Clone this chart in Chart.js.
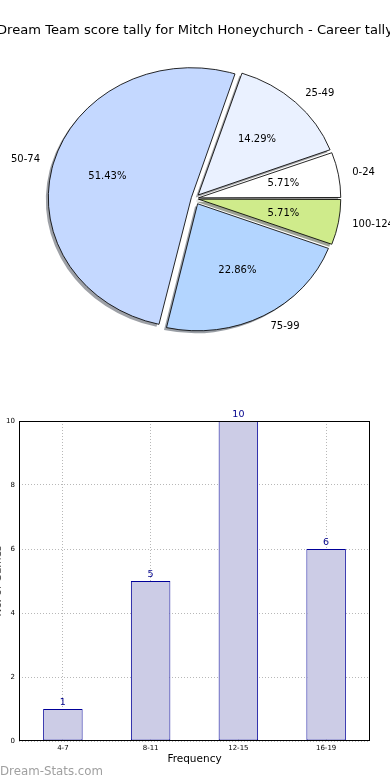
<!DOCTYPE html>
<html><head><meta charset="utf-8">
<script src="https://cdn.jsdelivr.net/npm/chart.js@4.4.1/dist/chart.umd.min.js"></script>
<style>
html,body{margin:0;padding:0;background:#fff;width:390px;height:780px;overflow:hidden;position:relative;font-family:"DejaVu Sans",sans-serif;}
#title{position:absolute;left:195px;top:21px;transform:translateX(-50%);white-space:nowrap;font-size:13.1px;color:#000;line-height:18px;}
#pieWrap{position:absolute;left:0;top:0;width:390px;height:400px;}
#barWrap{position:absolute;left:-20px;top:400px;width:410px;height:380px;}
#wm{position:absolute;left:0;top:763px;font-size:11.8px;color:#a0a0a0;line-height:16px;white-space:nowrap;}
canvas{display:block;}
</style></head>
<body>
<div id="pieWrap"><canvas id="pie" width="390" height="400" style="width:390px;height:400px"></canvas></div>
<div id="title">Dream Team score tally for Mitch Honeychurch - Career tally</div>
<div id="barWrap"><canvas id="bar" width="410" height="380" style="width:410px;height:380px"></canvas></div>
<div id="wm">Dream-Stats.com</div>
<script>
// ---- data ----
const scoreRanges = ['0-24', '25-49', '50-74', '75-99', '100-124'];
const scoreCounts = [2, 5, 18, 8, 2];
const sliceColors = ['#ffffff', '#eaf1ff', '#c4d8ff', '#b3d5ff', '#cfeb8b'];
const freqBins = ['4-7', '8-11', '12-15', '16-19'];
const freqCounts = [1, 5, 10, 6];
const yTicks = [0, 2, 4, 6, 8, 10];
const yTitle = 'No. of Games';
const xTitle = 'Frequency';

const FONT = 'DejaVu Sans';
const SX = 1.10;      // horizontal stretch of the pie (ellipse)
const EXPLODE = 6;    // px explode of each slice

// matplotlib draws counter-clockwise from 3 o'clock; Chart.js goes clockwise -> reverse
const pieLabels = scoreRanges.slice().reverse();
const pieData = scoreCounts.slice().reverse();
const pieColors = sliceColors.slice().reverse();
const pieTotal = pieData.reduce((a, b) => a + b, 0);

function shadowOf(hex) {
  const n = parseInt(hex.slice(1), 16);
  const r = ((n >> 16) & 255) * 0.3, g = ((n >> 8) & 255) * 0.3, b = (n & 255) * 0.3;
  return 'rgba(' + Math.round(r) + ',' + Math.round(g) + ',' + Math.round(b) + ',0.5)';
}

const ellipsePlugin = {
  id: 'ellipse',
  beforeDatasetsDraw(chart) {
    const c = chart.ctx;
    const arcs = chart.getDatasetMeta(0).data;
    const cx = arcs[0].x;
    c.save();
    c.translate(cx, 0); c.scale(SX, 1); c.translate(-cx, 0);
    // shadow pass (drawn below every wedge)
    c.save();
    c.translate(-2.5 / SX, 2.5);
    arcs.forEach((arc, i) => {
      const o = arc.options;
      const sh = shadowOf(pieColors[i]);
      arc.options = Object.assign({}, o, { backgroundColor: sh, borderColor: sh, borderWidth: 0 });
      arc.draw(c);
      arc.options = o;
    });
    c.restore();
  },
  afterDatasetsDraw(chart) { chart.ctx.restore(); }
};

const pieLabelPlugin = {
  id: 'pieLabels',
  afterDraw(chart) {
    const c = chart.ctx;
    const meta = chart.getDatasetMeta(0);
    c.save();
    c.fillStyle = '#000';
    c.font = '10px "' + FONT + '"';
    c.textBaseline = 'middle';
    meta.data.forEach((arc, i) => {
      const p = arc.getProps(['x', 'y', 'startAngle', 'endAngle', 'outerRadius'], true);
      const mid = (p.startAngle + p.endAngle) / 2;
      const pos = f => [p.x + SX * Math.cos(mid) * (EXPLODE + f * p.outerRadius),
                        p.y + Math.sin(mid) * (EXPLODE + f * p.outerRadius)];
      const [lx, ly] = pos(1.1);
      c.textAlign = Math.cos(mid) > 0 ? 'left' : 'right';
      c.fillText(pieLabels[i], lx, ly);
      const [px, py] = pos(0.6);
      c.textAlign = 'center';
      c.fillText((pieData[i] / pieTotal * 100).toFixed(2) + '%', px, py);
    });
    c.restore();
  }
};

new Chart(document.getElementById('pie'), {
  type: 'pie',
  data: {
    labels: pieLabels,
    datasets: [{
      data: pieData,
      backgroundColor: pieColors,
      borderColor: '#000',
      borderWidth: 0.8,
      hoverOffset: 0,
      offset: ctx => {
        const v = ctx.dataset.data[ctx.dataIndex];
        const circ = v / pieTotal * Math.PI * 2;
        const fix = 1 - Math.sin(Math.min(Math.PI, circ));
        return 4 * EXPLODE / (1 + fix);
      }
    }]
  },
  options: {
    responsive: false, animation: false, events: [],
    rotation: 90, radius: 127, clip: false,
    layout: { padding: { left: 0, right: 1, top: 0, bottom: 3 } },
    plugins: { legend: { display: false }, tooltip: { enabled: false } }
  },
  plugins: [ellipsePlugin, pieLabelPlugin]
});

const framePlugin = {
  id: 'frame',
  afterDraw(chart) {
    const c = chart.ctx, a = chart.chartArea;
    c.save();
    c.strokeStyle = '#000'; c.lineWidth = 1;
    c.strokeRect(Math.round(a.left) + 0.5, Math.round(a.top) + 0.5,
                 Math.round(a.right - a.left) - 1, Math.round(a.bottom - a.top) - 1);
    c.restore();
  }
};
const valueLabelPlugin = {
  id: 'valueLabels',
  afterDraw(chart) {
    const c = chart.ctx;
    const meta = chart.getDatasetMeta(0);
    c.save();
    c.fillStyle = '#00008b';
    c.font = '9.5px "' + FONT + '"';
    c.textAlign = 'center'; c.textBaseline = 'bottom';
    meta.data.forEach((bar, i) => c.fillText(String(freqCounts[i]), bar.x, bar.y - 2));
    c.restore();
  }
};

const gridOpts = { color: '#b8b8b8', lineWidth: 1, drawTicks: false, offset: false };
new Chart(document.getElementById('bar'), {
  type: 'bar',
  data: {
    labels: freqBins,
    datasets: [{
      data: freqCounts,
      backgroundColor: '#ccccE6',
      borderColor: '#000099',
      borderWidth: 1,
      borderSkipped: false,
      categoryPercentage: 1,
      barPercentage: 0.45
    }]
  },
  options: {
    responsive: false, animation: false, events: [],
    layout: { padding: { top: 21, right: 20, left: 0, bottom: 0 } },
    plugins: { legend: { display: false }, tooltip: { enabled: false } },
    scales: {
      x: {
        z: 1,
        grid: gridOpts,
        border: { display: false, dash: [1, 2] },
        ticks: { font: { family: FONT, size: 7 }, color: '#000', padding: 3, maxRotation: 0, autoSkip: false },
        title: { display: true, text: xTitle, font: { family: FONT, size: 10.5 }, color: '#000', padding: { top: 0, bottom: 14 } },
        afterFit(s) { s.height = 39; }
      },
      y: {
        z: 1,
        min: 0, max: 10,
        afterBuildTicks(s) { s.ticks = yTicks.map(v => ({ value: v })); },
        grid: gridOpts,
        border: { display: false, dash: [1, 2] },
        ticks: { font: { family: FONT, size: 7 }, color: '#000', padding: 4 },
        title: { display: true, text: yTitle, font: { family: FONT, size: 10.5 }, color: '#444', padding: { top: 11.5, bottom: 0 } },
        afterFit(s) { s.width = 39; }
      }
    }
  },
  plugins: [framePlugin, valueLabelPlugin]
});
</script>
</body></html>
